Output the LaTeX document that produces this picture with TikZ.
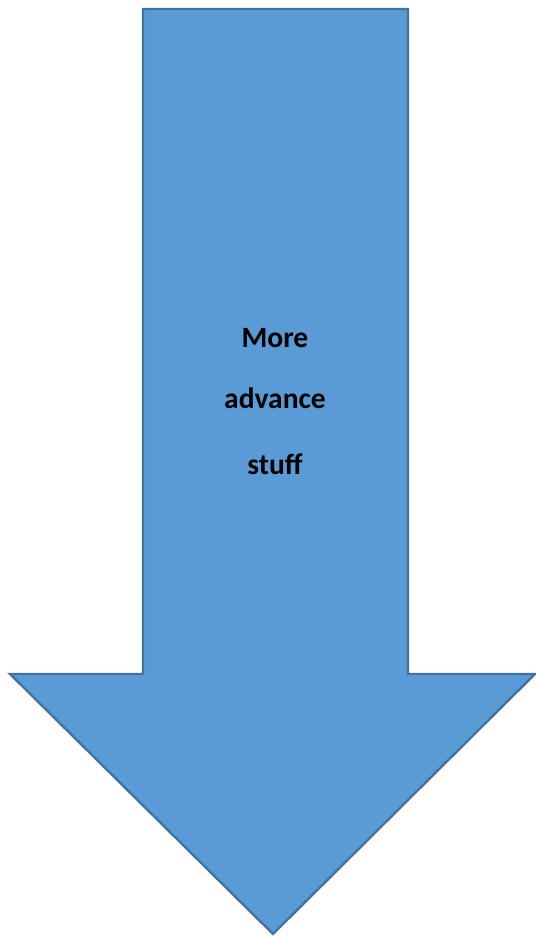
\documentclass[tikz,border=0pt]{standalone}
\usepackage{fontspec}
\setmainfont{Carlito}
\usepackage{xcolor}
\usepackage{tikz}
\usetikzlibrary{positioning}
\definecolor{arrowfill}{HTML}{5B9BD5}
\definecolor{arrowedge}{HTML}{41719C}

\begin{document}
\begin{tikzpicture}[
    x=0.02cm,y=-0.02cm,
    bigarrow/.style={draw=arrowedge,fill=arrowfill,line width=1.3pt,line join=miter},
    label/.style={font=\bfseries\fontsize{16.8}{20}\selectfont,inner sep=0pt},
  ]
    \useasboundingbox (0,0) rectangle (536,936);
    \draw[bigarrow] (143,9) -- (408,9) -- (408,674) -- (535,674)
      -- (273,934) -- (10,674) -- (143,674) -- cycle;
    \node[label] (more) at (275,338) {More};
    \node[label] (advance) at (275,398) {advance};
    \node[label] (stuff) at (275,464) {stuff};
  \end{tikzpicture}
\end{document}
